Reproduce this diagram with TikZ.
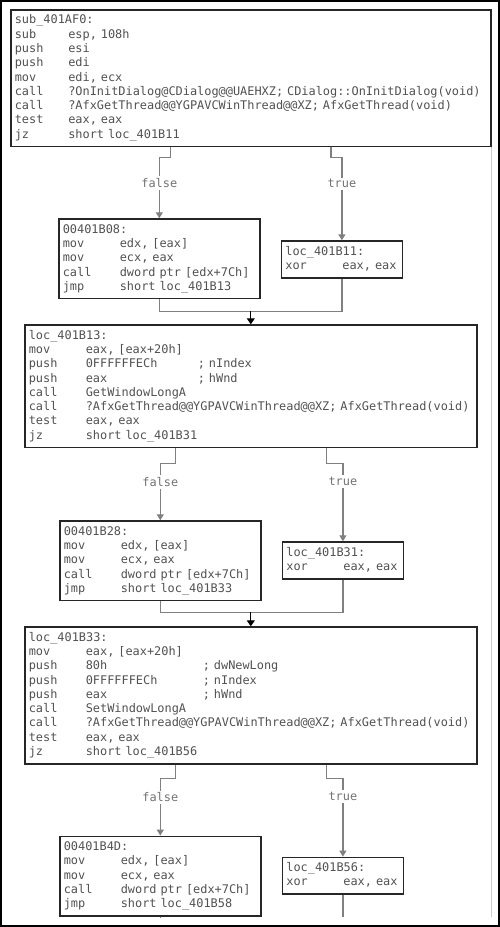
\documentclass[tikz,border=0pt]{standalone}
\usepackage{fontspec}
\newfontfamily\asmfont{DejaVu Sans Mono}
\usetikzlibrary{arrows.meta,positioning,calc}

\newlength\insw
\setlength\insw{57pt}
\newcommand\ins[2]{\strut\makebox[\insw][l]{#1}\mbox{#2}}
\newcommand\cmt[3]{\makebox[#1][l]{#2}; #3}

\begin{document}
\begin{tikzpicture}[
  font=\asmfont\fontsize{11.9}{14.3}\selectfont,
  blk/.style={rectangle, draw=black!85, line width=1.6pt, fill=white, inner xsep=4pt, inner ysep=4pt, align=left, text=black!68},
  blkwide/.style={blk, text width=444pt},
  blkmid/.style={blk, text width=193pt},
  blkxor/.style={blk, text width=113pt},
  wire/.style={draw=black!50, line width=1.2pt},
  flow/.style={wire, -{Triangle[length=6pt, width=7pt]}},
  mrg/.style={wire, draw=black, -{Triangle[length=6pt, width=8pt]}},
  tag/.style={fill=white, text=black!55, inner sep=2pt}
]
  \useasboundingbox (0,0) rectangle (500pt,-927pt);
  \draw[line width=2pt] (1pt,-1pt) rectangle (499pt,-926pt);

  % Entry block
  \node[blk, text width=472pt, anchor=north west] (start) at (10pt,-9pt) {\setlength\insw{53.5pt}\strut sub\_401AF0:\\
    \ins{sub}{esp, 108h}\\
    \ins{push}{esi}\\
    \ins{push}{edi}\\
    \ins{mov}{edi, ecx}\\
    \ins{call}{?OnInitDialog@CDialog@@UAEHXZ; CDialog::OnInitDialog(void)}\\
    \ins{call}{?AfxGetThread@@YGPAVCWinThread@@XZ; AfxGetThread(void)}\\
    \ins{test}{eax, eax}\\
    \ins{jz}{short loc\_401B11}};

  % First branch
  \node[blkmid, below right=71pt and 48pt of start.south west] (b08) {\strut 00401B08:\\
    \ins{mov}{edx, [eax]}\\
    \ins{mov}{ecx, eax}\\
    \ins{call}{dword ptr [edx+7Ch]}\\
    \ins{jmp}{short loc\_401B13}};
  \node[blkxor, below right=22pt and 20pt of b08.north east] (b11) {\strut loc\_401B11:\\
    \ins{xor}{eax, eax}};

  \node[blkwide, below=177pt of start] (b13) {\strut loc\_401B13:\\
    \ins{mov}{eax, [eax+20h]}\\
    \ins{push}{\cmt{112pt}{0FFFFFFECh}{nIndex}}\\
    \ins{push}{\cmt{112pt}{eax}{hWnd}}\\
    \ins{call}{GetWindowLongA}\\
    \ins{call}{?AfxGetThread@@YGPAVCWinThread@@XZ; AfxGetThread(void)}\\
    \ins{test}{eax, eax}\\
    \ins{jz}{short loc\_401B31}};

  % Second branch
  \node[blkmid, below right=72pt and 35pt of b13.south west] (b28) {\strut 00401B28:\\
    \ins{mov}{edx, [eax]}\\
    \ins{mov}{ecx, eax}\\
    \ins{call}{dword ptr [edx+7Ch]}\\
    \ins{jmp}{short loc\_401B33}};
  \node[blkxor, below right=21pt and 20pt of b28.north east] (b31) {\strut loc\_401B31:\\
    \ins{xor}{eax, eax}};

  \node[blkwide, below=178pt of b13] (b33) {\strut loc\_401B33:\\
    \ins{mov}{eax, [eax+20h]}\\
    \ins{push}{\cmt{117pt}{80h}{dwNewLong}}\\
    \ins{push}{\cmt{117pt}{0FFFFFFECh}{nIndex}}\\
    \ins{push}{\cmt{117pt}{eax}{hWnd}}\\
    \ins{call}{SetWindowLongA}\\
    \ins{call}{?AfxGetThread@@YGPAVCWinThread@@XZ; AfxGetThread(void)}\\
    \ins{test}{eax, eax}\\
    \ins{jz}{short loc\_401B56}};

  % Third branch
  \node[blkmid, below right=71pt and 35pt of b33.south west] (b4D) {\strut 00401B4D:\\
    \ins{mov}{edx, [eax]}\\
    \ins{mov}{ecx, eax}\\
    \ins{call}{dword ptr [edx+7Ch]}\\
    \ins{jmp}{short loc\_401B58}};
  \node[blkxor, below right=21pt and 20pt of b4D.north east] (b56) {\strut loc\_401B56:\\
    \ins{xor}{eax, eax}};

  % Edges
  \coordinate (f1) at ($(start.south west)!1/3!(start.south east)$);
  \coordinate (t1) at ($(start.south west)!2/3!(start.south east)$);
  \coordinate (f2) at ($(b13.south west)!1/3!(b13.south east)$);
  \coordinate (t2) at ($(b13.south west)!2/3!(b13.south east)$);
  \coordinate (f3) at ($(b33.south west)!1/3!(b33.south east)$);
  \coordinate (t3) at ($(b33.south west)!2/3!(b33.south east)$);
  \coordinate (m1) at ($(b13.north)+(0,13pt)$);
  \coordinate (m2) at ($(b33.north)+(0,14pt)$);
  \coordinate (cut) at (0,-917pt);

  \draw[flow] (f1) -- ++(0,-10pt) -| node[tag, pos=0.71] {false} (b08.north);
  \draw[flow] (t1) -- ++(0,-10pt) -| node[tag, pos=0.66] {true} (b11.north);
  \draw[wire] (b08.south) |- (m1) -| (b11.south);
  \draw[mrg] (m1) -- (b13.north);

  \draw[flow] (f2) -- ++(0,-15pt) -| node[tag, pos=0.665] {false} (b28.north);
  \draw[flow] (t2) -- ++(0,-15pt) -| node[tag, pos=0.615] {true} (b31.north);
  \draw[wire] (b28.south) |- (m2) -| (b31.south);
  \draw[mrg] (m2) -- (b33.north);

  \draw[flow] (f3) -- ++(0,-14pt) -| node[tag, pos=0.665] {false} (b4D.north);
  \draw[flow] (t3) -- ++(0,-14pt) -| node[tag, pos=0.615] {true} (b56.north);
  \draw[wire] (b4D.south) -- (b4D.south |- cut);
  \draw[wire] (b56.south) -- (b56.south |- cut);

  % window edge
  \draw[black!20, line width=1.2pt] (start.south east) -- (start.south east |- cut);
\end{tikzpicture}
\end{document}
